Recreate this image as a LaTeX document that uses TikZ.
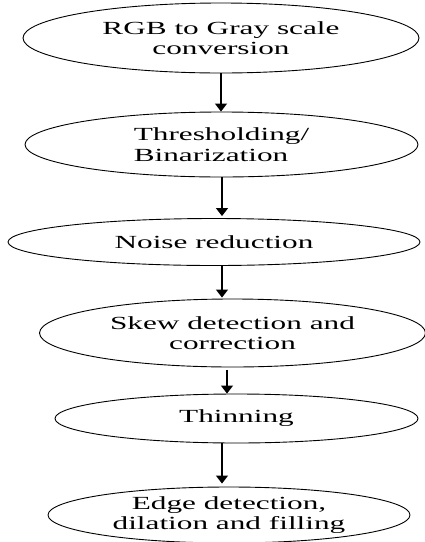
\documentclass[tikz,border=0pt]{standalone}
\usepackage{fontspec}
\setmainfont{Liberation Serif}[FakeStretch=1.69]
\usetikzlibrary{shapes.geometric,arrows.meta}
\begin{document}
\begin{tikzpicture}[x=1pt,y=-1pt,
  stage/.style={draw, line width=0.9pt, ellipse, inner sep=0pt, align=center,
    font=\fontsize{18.5}{20.5}\selectfont},
  arr/.style={line width=1.3pt, -{Triangle[width=12pt,length=8pt]}}]
\useasboundingbox (0,0) rectangle (425,542);
\node[stage, minimum width=396pt, minimum height=70pt] (e1) at (221,38) {RGB to Gray scale\\conversion};
\node[stage, minimum width=393pt, minimum height=65pt, align=left] (e2) at (221.5,144.5) {Thresholding/\\Binarization};
\node[stage, minimum width=412pt, minimum height=47pt] (e3) at (214,242) {Noise reduction};
\node[stage, minimum width=386pt, minimum height=68pt] (e4) at (232.5,333) {Skew detection and\\correction};
\node[stage, minimum width=363pt, minimum height=49pt] (e5) at (236.5,418.5) {Thinning};
\node[stage, minimum width=362pt, minimum height=56pt] (e6) at (229,515) {Edge detection,\\dilation and filling};
\coordinate (s2) at ([xshift=0.5pt]e2.south);
\coordinate (t2) at ([yshift=2pt]s2 |- e3.north);
\draw[arr] (e1.south) -- (e1.south |- e2.north);
\draw[arr] (s2) -- (t2);
\draw[arr] ([xshift=8pt]e3.south) -- ([xshift=8pt,yshift=1pt]e3.south |- e4.north);
\draw[arr, shorten <=3pt] ([xshift=-5.5pt]e4.south) -- ([xshift=-5.5pt]e4.south |- e5.north);
\draw[arr] ([xshift=-14.5pt]e5.south) -- ([xshift=-14.5pt,yshift=3pt]e5.south |- e6.north);
\end{tikzpicture}
\end{document}
